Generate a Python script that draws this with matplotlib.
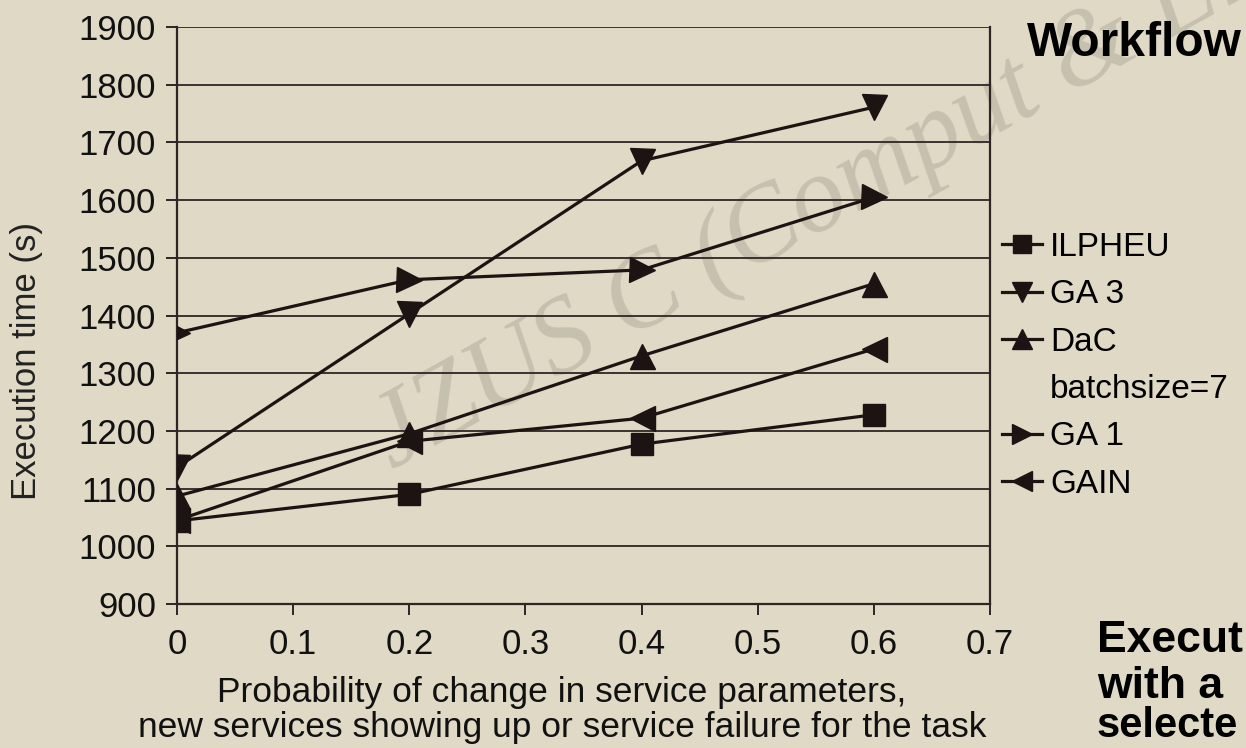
import numpy as np
import matplotlib.pyplot as plt
from matplotlib.lines import Line2D
from matplotlib.ticker import FuncFormatter

plt.rcParams['font.family'] = ['Liberation Sans', 'DejaVu Sans']

# values
prob = [0, 0.2, 0.4, 0.6]
ilpheu = [1044, 1090, 1177, 1228]
ga3 = [1137, 1403, 1668, 1761]
dac = [1087, 1195, 1330, 1455]
ga1 = [1370, 1462, 1479, 1605]
gain = [1045, 1182, 1222, 1342]

series = [ilpheu, ga3, dac, ga1, gain]
names = ['ILPHEU', 'GA 3', 'DaC', 'GA 1', 'GAIN']
dac_note = 'batchsize=7'
markers = ['s', 'v', '^', '>', '<']
sizes = [16, 18, 18, 18, 18]

x_ticks = [0, 0.1, 0.2, 0.3, 0.4, 0.5, 0.6, 0.7]
y_ticks = np.arange(900, 2000, 100)

bg = '#dfd9c5'
ink = '#1c1412'
grid_c = '#2e2624'

W, H = 1246, 748
fig = plt.figure(figsize=(W / 100, H / 100), dpi=100, facecolor=bg)
ax = fig.add_axes([177 / W, 1 - 604 / H, (990 - 177) / W, (604 - 27) / H])
ax.patch.set_alpha(0)

# watermark behind the plot
fig.text(392 / W, 1 - 470 / H, 'JZUS C (Comput & Ele', rotation=29, rotation_mode='anchor',
         ha='left', va='baseline', fontsize=78, family='Liberation Serif', style='italic',
         color='#c6c1ae', zorder=-1)

handles = []
for vals, name, m, s in zip(series, names, markers, sizes):
    h, = ax.plot(prob, vals, color=ink, lw=2.3, marker=m, markersize=s, label=name, zorder=3)
    handles.append(h)

ax.set_xlim(0, 0.7)
ax.set_ylim(900, 1900)
ax.set_xticks(x_ticks)
ax.set_yticks(y_ticks)
ax.xaxis.set_major_formatter(FuncFormatter(lambda v, p: f'{v:g}'))
ax.yaxis.grid(True, color=grid_c, lw=1.3)
ax.set_axisbelow(True)
for side in ['left', 'bottom', 'right']:
    ax.spines[side].set_color(grid_c)
    ax.spines[side].set_linewidth(1.6)
ax.spines['top'].set_visible(False)
ax.tick_params(axis='both', direction='out', length=8, width=1.4, color=grid_c,
               labelsize=25, labelcolor='#111111')
ax.tick_params(axis='x', pad=9)
ax.tick_params(axis='y', pad=7)

ax.set_ylabel('Execution time (s)', fontsize=25, color='#222222', va='center')
ax.yaxis.set_label_coords((27 - 177) / 813, (604 - 361) / 577)
ax.set_xlabel('Probability of change in service parameters,\nnew services showing up or service failure for the task',
              fontsize=25.5, color='#111111', linespacing=1.07, va='top')
ax.xaxis.set_label_coords((562 - 177) / 813, (604 - 676) / 577)

# legend: the DaC note sits on its own row without a marker
leg_handles = handles[:3] + [Line2D([], [], linestyle='none')] + handles[3:]
leg_labels = names[:3] + [dac_note] + names[3:]
fig.legend(leg_handles, leg_labels, loc='upper left', bbox_to_anchor=(1002 / W, 1 - 232 / H),
           frameon=False, fontsize=24, markerscale=0.8, handlelength=1.2,
           handletextpad=0.24, labelspacing=0.49, borderaxespad=0, borderpad=0)

fig.text(1027 / W, 1 - 43 / H, 'Workflow', fontsize=34.5, fontweight='bold', ha='left', va='center',
         color='#000000')
fig.text(1097 / W, 1 - 640 / H, 'Execut', fontsize=32, fontweight='bold', ha='left', va='center')
fig.text(1097 / W, 1 - 686 / H, 'with a', fontsize=32, fontweight='bold', ha='left', va='center')
fig.text(1097 / W, 1 - 726 / H, 'selecte', fontsize=30, fontweight='bold', ha='left', va='center')

fig.savefig('out.png', dpi=100, facecolor=bg)
